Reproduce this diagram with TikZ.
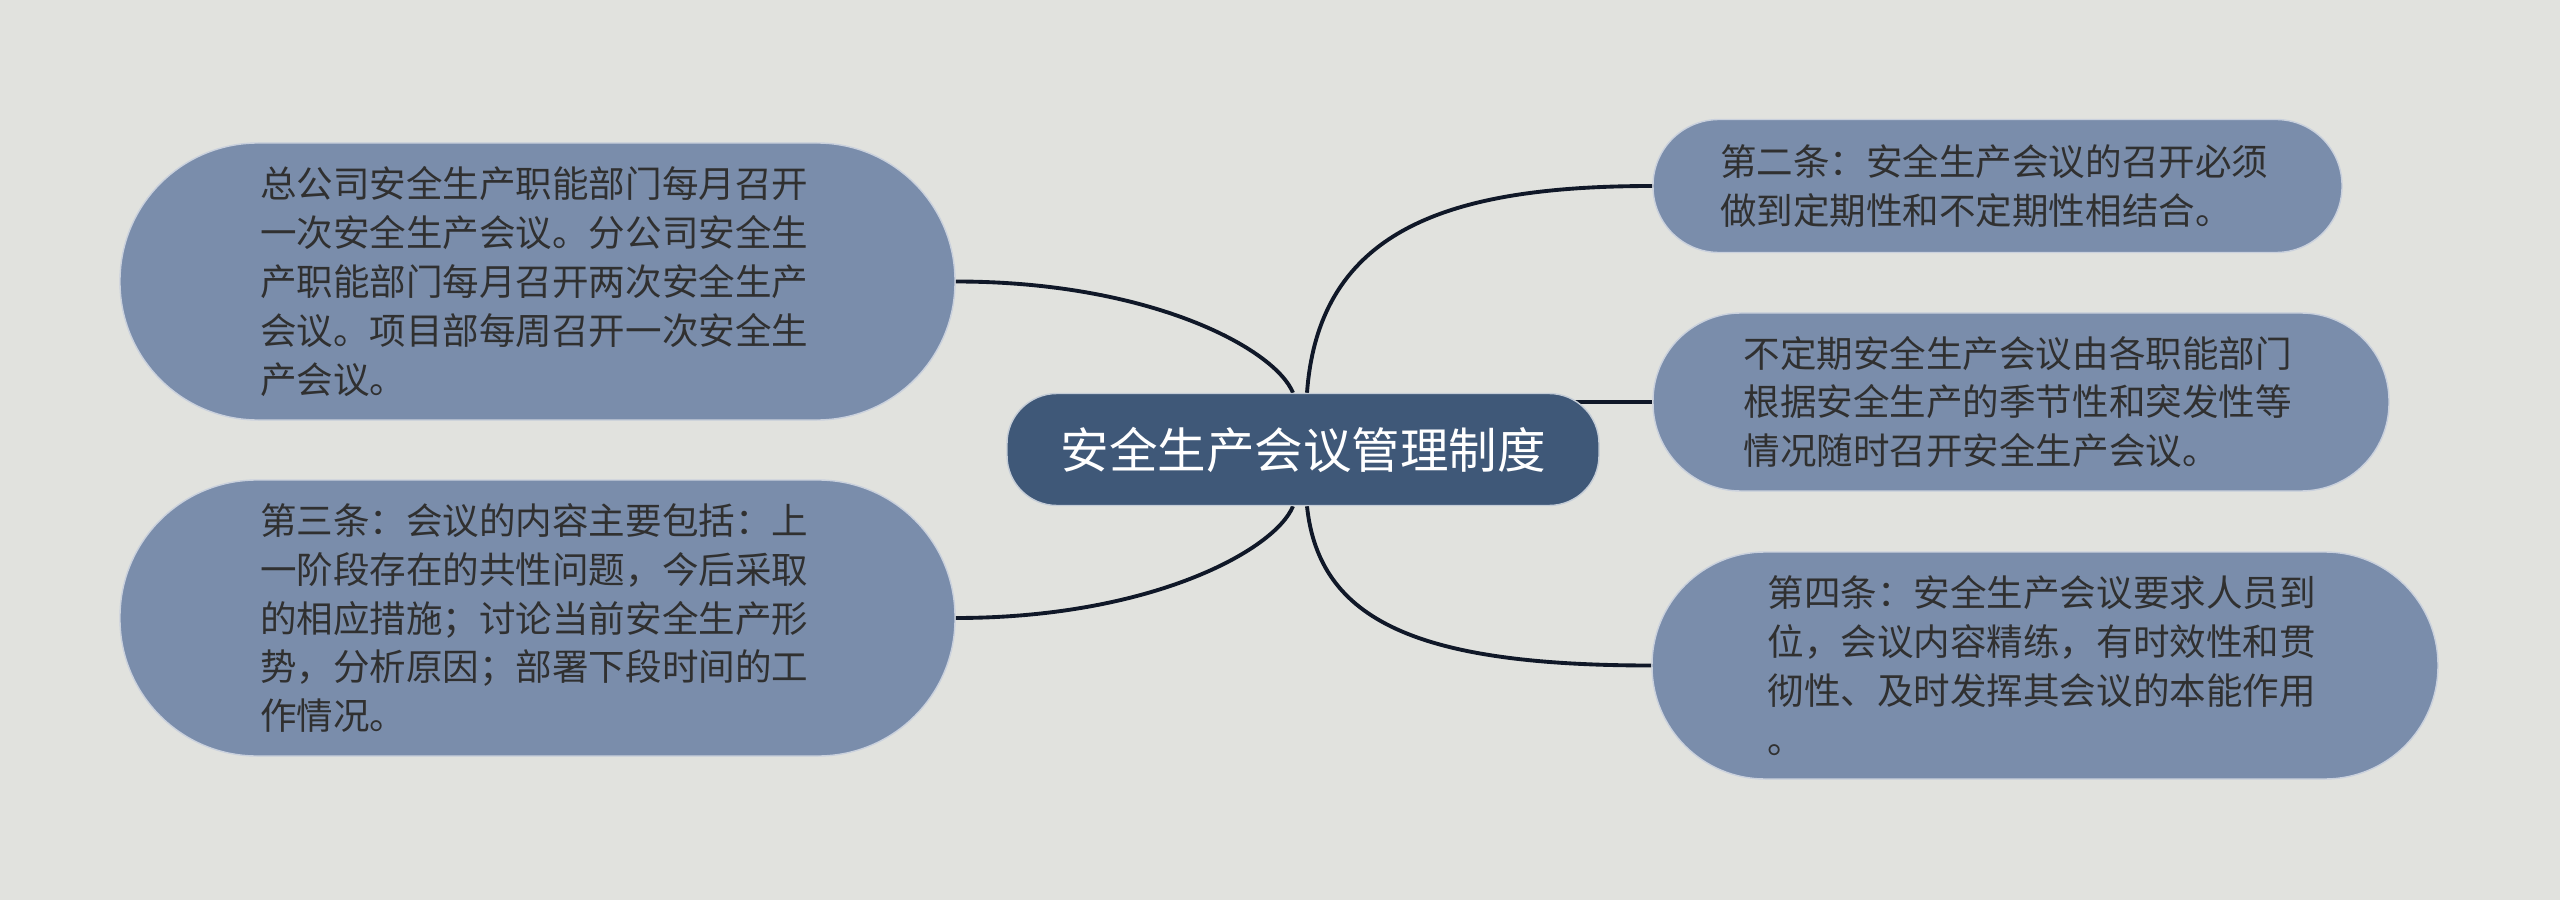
\documentclass[tikz,border=0pt]{standalone}
\usepackage{fontspec}
\usepackage{tkz-euclide}
\usetikzlibrary{backgrounds}
\newfontfamily\cjk{Noto Sans CJK SC}
\definecolor{bgcol}{HTML}{E1E2DE}
\definecolor{rootcol}{HTML}{3F5878}
\definecolor{leafcol}{HTML}{7A8DAB}
\definecolor{txtcol}{HTML}{303030}
\definecolor{linkcol}{HTML}{101828}

\begin{document}
\begin{tikzpicture}[
    rootbox/.style={fill=rootcol, draw=white!70!rootcol, line width=0.4pt,
        minimum width=5.92cm, minimum height=1.12cm, rounded corners=0.5cm,
        inner sep=0pt, text=white, font=\cjk\fontsize{13.8pt}{16pt}\selectfont},
    leaf/.style n args={3}{fill=leafcol, draw=white!60!leafcol, line width=0.4pt,
        minimum width=#1, minimum height=#2, rounded corners=#3,
        inner sep=0pt, text width=5.55cm, align=left, text=txtcol,
        font=\cjk\fontsize{10.4pt}{13.9pt}\selectfont},
    link/.style={draw=linkcol, line width=1.1pt}
]
                \tkzDefPoint(0,0){O}
                \tkzDefPoint(25.6,9){P}
                \tkzDefPoint(13.03,4.505){c}
                \tkzDefPoint(5.375,6.185){a1}
                \tkzDefPoint(5.375,2.82){a2}
                \tkzDefPoint(19.975,7.14){b1}
                \tkzDefPoint(20.21,4.98){b2}
                \tkzDefPoint(20.45,2.345){b3}
                \useasboundingbox (O) rectangle (P);
                \node[rootbox] (root) at (c) {安全生产会议管理制度};
                \node[leaf={8.35cm}{2.77cm}{1.38cm}] (L1) at (a1)
                    {总公司安全生产职能部门每月召开\\一次安全生产会议。分公司安全生\\产职能部门每月召开两次安全生产\\会议。项目部每周召开一次安全生\\产会议。};
                \node[leaf={8.35cm}{2.76cm}{1.37cm}] (L2) at (a2)
                    {第三条：会议的内容主要包括：上\\一阶段存在的共性问题，今后采取\\的相应措施；讨论当前安全生产形\\势，分析原因；部署下段时间的工\\作情况。};
                \node[leaf={6.89cm}{1.33cm}{0.66cm}] (R1) at (b1)
                    {第二条：安全生产会议的召开必须\\做到定期性和不定期性相结合。};
                \node[leaf={7.36cm}{1.78cm}{0.88cm}] (R2) at (b2)
                    {不定期安全生产会议由各职能部门\\根据安全生产的季节性和突发性等\\情况随时召开安全生产会议。};
                \node[leaf={7.86cm}{2.27cm}{1.13cm}] (R3) at (b3)
                    {第四条：安全生产会议要求人员到\\位，会议内容精练，有时效性和贯\\彻性、及时发挥其会议的本能作用\\。};
                \begin{scope}[on background layer]
                \fill[bgcol] (O) rectangle (P);
                \draw[link] ([xshift=-0.10cm]root.north) .. controls +(-0.18,0.44) and +(1.95,0) .. (L1.east);
                \draw[link] ([xshift=-0.10cm]root.south) .. controls +(-0.18,-0.44) and +(1.95,0) .. (L2.east);
                \draw[link] ([xshift=0.04cm]root.north) .. controls +(0.12,1.64) and +(-2.03,0) .. (R1.west);
                \draw[link] (root.center |- R2.west) -- (R2.west);
                \draw[link] ([xshift=0.04cm]root.south) .. controls +(0.12,-1.15) and +(-2.33,0) .. (R3.west);
                \end{scope}
\end{tikzpicture}
\end{document}
